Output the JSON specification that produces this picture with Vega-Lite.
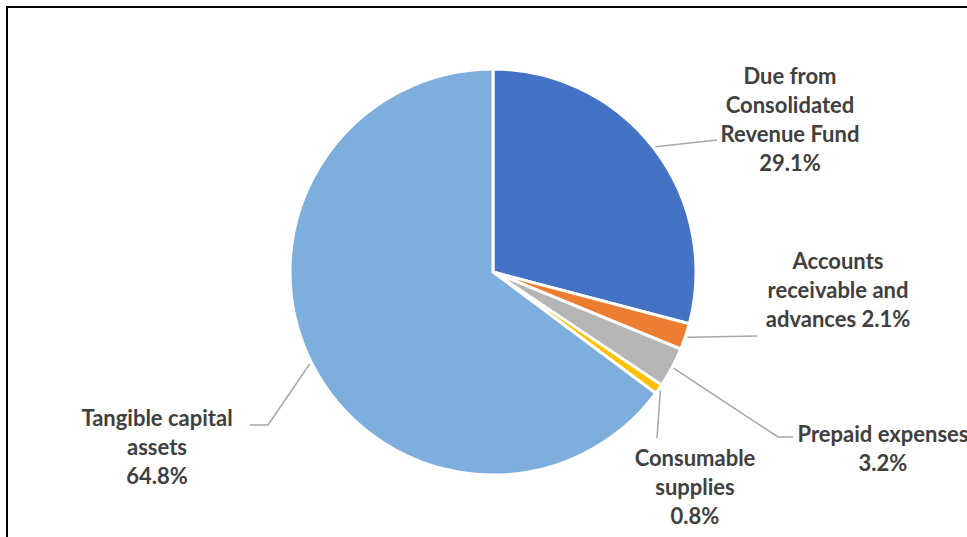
{
  "$schema": "https://vega.github.io/schema/vega-lite/v6.json",
  "width": 972,
  "height": 540,
  "autosize": {"type": "none"},
  "padding": {"left": 7, "top": 7, "right": 0, "bottom": 0},
  "background": "white",
  "config": {
    "view": {"stroke": "#000000", "strokeWidth": 2},
    "text": {"font": "Lato", "fontWeight": "bold", "fontSize": 22, "color": "#404040", "lineHeight": 29, "align": "center", "baseline": "middle", "lineBreak": "\n"}
  },
  "data": {
    "values": [
      {"category": "Due from Consolidated Revenue Fund", "value": 29.1, "order": 1, "label": "Due from\nConsolidated\nRevenue Fund\n29.1%"},
      {"category": "Accounts receivable and advances", "value": 2.1, "order": 2, "label": "Accounts\nreceivable and\nadvances 2.1%"},
      {"category": "Prepaid expenses", "value": 3.2, "order": 3, "label": "Prepaid expenses\n3.2%"},
      {"category": "Consumable supplies", "value": 0.8, "order": 4, "label": "Consumable\nsupplies\n0.8%"},
      {"category": "Tangible capital assets", "value": 64.8, "order": 5, "label": "Tangible capital\nassets\n64.8%"}
    ]
  },
  "transform": [
    {"window": [{"op": "sum", "field": "value", "as": "cum"}], "sort": [{"field": "order"}], "frame": [null, 0]},
    {"joinaggregate": [{"op": "sum", "field": "value", "as": "total"}]},
    {"calculate": "2*PI*(datum.cum - datum.value/2)/datum.total", "as": "a"},
    {"calculate": "205*sin(datum.a)", "as": "sx"},
    {"calculate": "-205*cos(datum.a)", "as": "sy"}
  ],
  "layer": [
    {
      "mark": {"type": "arc", "outerRadius": 203, "stroke": "white", "strokeWidth": 3},
      "encoding": {
        "theta": {"field": "value", "type": "quantitative", "stack": true},
        "order": {"field": "order", "type": "quantitative"},
        "color": {"field": "category", "type": "nominal", "legend": null,
          "scale": {"domain": ["Due from Consolidated Revenue Fund", "Accounts receivable and advances", "Prepaid expenses", "Consumable supplies", "Tangible capital assets"],
                    "range": ["#4472C4", "#ED7D31", "#B5B5B5", "#FFC000", "#7DAEDD"]}},
        "x": {"datum": 0, "type": "quantitative", "scale": {"domain": [-486, 486], "nice": false, "zero": false}, "axis": null},
        "y": {"datum": 0, "type": "quantitative", "scale": {"domain": [-265, 275], "nice": false, "zero": false, "reverse": true}, "axis": null}
      }
    },
    {
      "transform": [{"filter": "datum.order == 1"}],
      "mark": {"type": "rule", "color": "#A6A6A6", "strokeWidth": 1.5},
      "encoding": {
        "x": {"field": "sx", "type": "quantitative", "scale": {"domain": [-486, 486], "nice": false, "zero": false}, "axis": null},
        "y": {"field": "sy", "type": "quantitative", "scale": {"domain": [-265, 275], "nice": false, "zero": false, "reverse": true}, "axis": null},
        "x2": {"datum": 224},
        "y2": {"datum": -132}
      }
    },
    {
      "transform": [{"filter": "datum.order == 2"}],
      "mark": {"type": "rule", "color": "#A6A6A6", "strokeWidth": 1.5},
      "encoding": {
        "x": {"field": "sx", "type": "quantitative", "scale": {"domain": [-486, 486], "nice": false, "zero": false}, "axis": null},
        "y": {"field": "sy", "type": "quantitative", "scale": {"domain": [-265, 275], "nice": false, "zero": false, "reverse": true}, "axis": null},
        "x2": {"datum": 264},
        "y2": {"datum": 64}
      }
    },
    {
      "transform": [{"filter": "datum.order == 3"}],
      "mark": {"type": "rule", "color": "#A6A6A6", "strokeWidth": 1.5},
      "encoding": {
        "x": {"field": "sx", "type": "quantitative", "scale": {"domain": [-486, 486], "nice": false, "zero": false}, "axis": null},
        "y": {"field": "sy", "type": "quantitative", "scale": {"domain": [-265, 275], "nice": false, "zero": false, "reverse": true}, "axis": null},
        "x2": {"datum": 285},
        "y2": {"datum": 165}
      }
    },
    {
      "transform": [{"filter": "datum.order == 3"}],
      "mark": {"type": "rule", "color": "#A6A6A6", "strokeWidth": 1.5},
      "encoding": {
        "x": {"datum": 285, "type": "quantitative", "scale": {"domain": [-486, 486], "nice": false, "zero": false}, "axis": null},
        "y": {"datum": 165, "type": "quantitative", "scale": {"domain": [-265, 275], "nice": false, "zero": false, "reverse": true}, "axis": null},
        "x2": {"datum": 300},
        "y2": {"datum": 165}
      }
    },
    {
      "transform": [{"filter": "datum.order == 4"}],
      "mark": {"type": "rule", "color": "#A6A6A6", "strokeWidth": 1.5},
      "encoding": {
        "x": {"field": "sx", "type": "quantitative", "scale": {"domain": [-486, 486], "nice": false, "zero": false}, "axis": null},
        "y": {"field": "sy", "type": "quantitative", "scale": {"domain": [-265, 275], "nice": false, "zero": false, "reverse": true}, "axis": null},
        "x2": {"datum": 164},
        "y2": {"datum": 166}
      }
    },
    {
      "transform": [{"filter": "datum.order == 5"}],
      "mark": {"type": "rule", "color": "#A6A6A6", "strokeWidth": 1.5},
      "encoding": {
        "x": {"field": "sx", "type": "quantitative", "scale": {"domain": [-486, 486], "nice": false, "zero": false}, "axis": null},
        "y": {"field": "sy", "type": "quantitative", "scale": {"domain": [-265, 275], "nice": false, "zero": false, "reverse": true}, "axis": null},
        "x2": {"datum": -225},
        "y2": {"datum": 153}
      }
    },
    {
      "transform": [{"filter": "datum.order == 5"}],
      "mark": {"type": "rule", "color": "#A6A6A6", "strokeWidth": 1.5},
      "encoding": {
        "x": {"datum": -225, "type": "quantitative", "scale": {"domain": [-486, 486], "nice": false, "zero": false}, "axis": null},
        "y": {"datum": 153, "type": "quantitative", "scale": {"domain": [-265, 275], "nice": false, "zero": false, "reverse": true}, "axis": null},
        "x2": {"datum": -243},
        "y2": {"datum": 153}
      }
    },
    {
      "transform": [{"filter": "datum.order == 1"}],
      "mark": {"type": "text"},
      "encoding": {
        "text": {"field": "label", "type": "nominal"},
        "x": {"datum": 297, "type": "quantitative", "scale": {"domain": [-486, 486], "nice": false, "zero": false}, "axis": null},
        "y": {"datum": -195, "type": "quantitative", "scale": {"domain": [-265, 275], "nice": false, "zero": false, "reverse": true}, "axis": null}
      }
    },
    {
      "transform": [{"filter": "datum.order == 2"}],
      "mark": {"type": "text"},
      "encoding": {
        "text": {"field": "label", "type": "nominal"},
        "x": {"datum": 345, "type": "quantitative", "scale": {"domain": [-486, 486], "nice": false, "zero": false}, "axis": null},
        "y": {"datum": -10, "type": "quantitative", "scale": {"domain": [-265, 275], "nice": false, "zero": false, "reverse": true}, "axis": null}
      }
    },
    {
      "transform": [{"filter": "datum.order == 3"}],
      "mark": {"type": "text"},
      "encoding": {
        "text": {"field": "label", "type": "nominal"},
        "x": {"datum": 390, "type": "quantitative", "scale": {"domain": [-486, 486], "nice": false, "zero": false}, "axis": null},
        "y": {"datum": 163, "type": "quantitative", "scale": {"domain": [-265, 275], "nice": false, "zero": false, "reverse": true}, "axis": null}
      }
    },
    {
      "transform": [{"filter": "datum.order == 4"}],
      "mark": {"type": "text"},
      "encoding": {
        "text": {"field": "label", "type": "nominal"},
        "x": {"datum": 202, "type": "quantitative", "scale": {"domain": [-486, 486], "nice": false, "zero": false}, "axis": null},
        "y": {"datum": 187, "type": "quantitative", "scale": {"domain": [-265, 275], "nice": false, "zero": false, "reverse": true}, "axis": null}
      }
    },
    {
      "transform": [{"filter": "datum.order == 5"}],
      "mark": {"type": "text"},
      "encoding": {
        "text": {"field": "label", "type": "nominal"},
        "x": {"datum": -336, "type": "quantitative", "scale": {"domain": [-486, 486], "nice": false, "zero": false}, "axis": null},
        "y": {"datum": 147, "type": "quantitative", "scale": {"domain": [-265, 275], "nice": false, "zero": false, "reverse": true}, "axis": null}
      }
    }
  ]
}
